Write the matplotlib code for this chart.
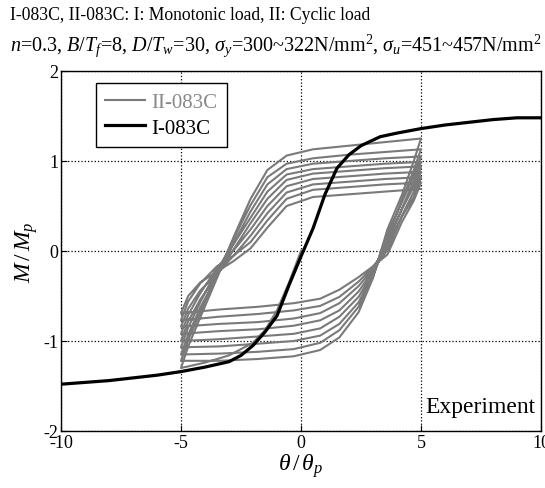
import matplotlib
matplotlib.use("Agg")
import matplotlib.pyplot as plt
from matplotlib.lines import Line2D

plt.rcParams['font.family'] = ['Liberation Serif', 'DejaVu Serif']
plt.rcParams['mathtext.fontset'] = 'custom'
plt.rcParams['mathtext.rm'] = 'Liberation Serif'
plt.rcParams['mathtext.it'] = 'Liberation Serif:italic'
plt.rcParams['mathtext.bf'] = 'Liberation Serif:bold'

# ---------------- data ----------------
# Monotonic load (I-083C)
mono_x = [-10, -8, -6, -5, -4, -3, -2.5, -2, -1.5, -1, -0.5, 0, 0.5, 1, 1.5, 2, 2.5, 3.3, 4, 5, 6, 7, 8, 9, 10]
mono_m = [-1.48, -1.44, -1.38, -1.34, -1.29, -1.23, -1.16, -1.05, -0.90, -0.72, -0.38, -0.06, 0.25, 0.63, 0.92, 1.07, 1.17, 1.27, 1.31, 1.36, 1.40, 1.43, 1.46, 1.48, 1.48]

# Cyclic load (II-083C): virgin branch, reloading branches (neg -> pos), unloading branches (pos -> neg)
virgin_x = [0, -0.5, -1.0, -1.5, -2.0, -3.0, -4.0, -5.0]
virgin_m = [0, -0.35, -0.66, -0.88, -1.02, -1.16, -1.24, -1.30]

reload_x = [-5, -4.7, -4.2, -3.5, -2.8, -2.1, -1.4, -0.6, 0.5, 2.0, 3.5, 5.0]
reload_m = [
    [-1.30, -1.06, -0.74, -0.30, 0.16, 0.58, 0.90, 1.06, 1.13, 1.17, 1.21, 1.25],
    [-1.22, -0.99, -0.68, -0.25, 0.14, 0.51, 0.82, 0.97, 1.03, 1.07, 1.10, 1.13],
    [-1.15, -0.93, -0.63, -0.28, 0.09, 0.44, 0.74, 0.91, 0.97, 1.00, 1.03, 1.05],
    [-1.07, -0.85, -0.57, -0.21, 0.08, 0.37, 0.66, 0.85, 0.91, 0.94, 0.97, 0.99],
    [-1.00, -0.78, -0.54, -0.27, 0.02, 0.31, 0.58, 0.79, 0.86, 0.89, 0.92, 0.94],
    [-0.92, -0.71, -0.47, -0.19, 0.01, 0.24, 0.50, 0.72, 0.80, 0.83, 0.86, 0.88],
    [-0.84, -0.64, -0.44, -0.25, -0.05, 0.17, 0.42, 0.65, 0.74, 0.77, 0.80, 0.82],
    [-0.77, -0.56, -0.36, -0.17, -0.05, 0.10, 0.34, 0.58, 0.68, 0.71, 0.74, 0.76],
    [-0.69, -0.50, -0.35, -0.23, -0.11, 0.03, 0.26, 0.50, 0.60, 0.63, 0.66, 0.69],
]

unload_x = [5, 4.7, 4.2, 3.6, 3.0, 2.4, 1.6, 0.8, -0.3, -1.8, -3.4, -5.0]
unload_m = [
    [1.25, 1.00, 0.62, 0.24, -0.30, -0.68, -0.96, -1.10, -1.17, -1.20, -1.22, -1.22],
    [1.13, 0.90, 0.56, 0.14, -0.28, -0.62, -0.88, -1.02, -1.09, -1.12, -1.14, -1.15],
    [1.05, 0.84, 0.54, 0.19, -0.26, -0.57, -0.81, -0.94, -1.00, -1.03, -1.06, -1.07],
    [0.99, 0.78, 0.47, 0.08, -0.24, -0.51, -0.73, -0.86, -0.92, -0.95, -0.98, -1.00],
    [0.94, 0.72, 0.46, 0.11, -0.22, -0.45, -0.66, -0.77, -0.83, -0.87, -0.89, -0.92],
    [0.88, 0.66, 0.39, 0.01, -0.20, -0.39, -0.58, -0.69, -0.75, -0.79, -0.81, -0.84],
    [0.82, 0.60, 0.38, 0.05, -0.18, -0.34, -0.51, -0.61, -0.66, -0.70, -0.73, -0.77],
    [0.76, 0.56, 0.32, -0.04, -0.17, -0.29, -0.43, -0.53, -0.58, -0.62, -0.65, -0.69],
]

x_ticks = [-10, -5, 0, 5, 10]
y_ticks = [-2, -1, 0, 1, 2]
legend_labels = ["II-083C", "I-083C"]

# Build cyclic path in loading order
cyc_x = list(virgin_x)
cyc_m = list(virgin_m)
for i in range(len(reload_m)):
    cyc_x += reload_x[1:]
    cyc_m += reload_m[i][1:]
    if i < len(unload_m):
        cyc_x += unload_x[1:]
        cyc_m += unload_m[i][1:]

# ---------------- figure ----------------
fig = plt.figure(figsize=(5.45, 4.89), dpi=100)
ax = fig.add_axes([61/545, 57/489, 480/545, 360/489])

gray = '#7a7a7a'
ax.plot(cyc_x, cyc_m, color=gray, lw=1.5, zorder=2)
ax.plot(mono_x, mono_m, color='black', lw=2.3, zorder=3)

ax.set_xlim(-10, 10)
ax.set_ylim(-2, 2)
ax.set_xticks(x_ticks)
ax.set_yticks(y_ticks)
ax.set_xticklabels([str(t) for t in x_ticks])
ax.set_yticklabels([str(t) for t in y_ticks])
ax.tick_params(direction='in', labelsize=13, length=4, pad=2)
ax.grid(True, linestyle=':', color='black', lw=0.9)
for s in ax.spines.values():
    s.set_linewidth(1.0)

ax.set_xlabel(r"$\theta\,/\,\theta_p$", fontsize=17, labelpad=0)
ax.set_ylabel(r"$M\,/\,M_p$", fontsize=17, labelpad=2)

handles = [Line2D([], [], color=gray, lw=1.5), Line2D([], [], color='black', lw=2.3)]
leg = ax.legend(handles, legend_labels, loc='upper left', bbox_to_anchor=(0.073, 0.967),
                fontsize=15, frameon=True, fancybox=False, edgecolor='black',
                framealpha=1, handlelength=1.9, handletextpad=0.3, borderpad=0.45,
                labelspacing=0.3, borderaxespad=0)
leg.get_frame().set_linewidth(1.0)
leg.get_texts()[0].set_color('#888888')

ax.text(9.75, -1.73, "Experiment", fontsize=17, ha='right', va='center')

fig.text(10/545, 1 - 16/489, "I-083C, II-083C: I: Monotonic load, II: Cyclic load",
         fontsize=12.7, ha='left', va='center')
fig.text(10/545, 1 - 46/489,
         r"$n$=0.3, $B/T_f$=8, $D/T_w$=30, $\sigma_y$=300~322N/mm$^2$, $\sigma_u$=451~457N/mm$^2$",
         fontsize=14.5, ha='left', va='center')

fig.savefig("out.png", dpi=100)
